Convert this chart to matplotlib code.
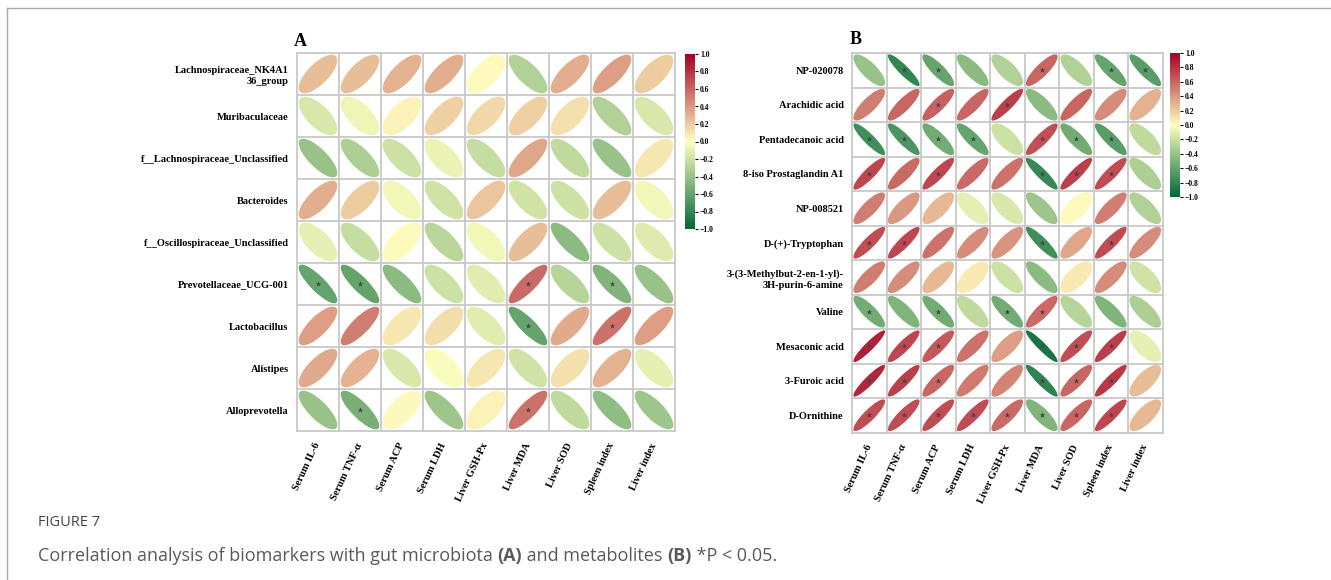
import numpy as np
import matplotlib
matplotlib.use("Agg")
import matplotlib.pyplot as plt
from matplotlib.patches import Ellipse
from matplotlib.colors import LinearSegmentedColormap, Normalize
from matplotlib.cm import ScalarMappable
from matplotlib.lines import Line2D

# ---- data ----
x_labels = ["Serum IL-6", "Serum TNF-\u03b1", "Serum ACP", "Serum LDH", "Liver GSH-Px",
            "Liver MDA", "Liver SOD", "Spleen index", "Liver index"]

rows_a = ["Lachnospiraceae_NK4A1\n36_group", "Muribaculaceae", "f__Lachnospiraceae_Unclassified",
          "Bacteroides", "f__Oscillospiraceae_Unclassified", "Prevotellaceae_UCG-001",
          "Lactobacillus", "Alistipes", "Alloprevotella"]
corr_a = [
    [0.25, 0.25, 0.30, 0.32, 0.02, -0.30, 0.32, 0.38, 0.20],
    [-0.15, -0.07, 0.05, 0.18, 0.15, 0.18, 0.12, -0.30, -0.15],
    [-0.40, -0.32, -0.20, -0.08, -0.22, 0.35, -0.25, -0.40, 0.10],
    [0.32, 0.20, -0.05, -0.18, 0.22, -0.18, -0.20, 0.25, -0.05],
    [-0.10, -0.22, 0.02, -0.27, -0.05, 0.25, -0.45, -0.20, -0.13],
    [-0.60, -0.60, -0.45, -0.20, -0.12, 0.58, -0.28, -0.50, -0.40],
    [0.38, 0.50, 0.10, 0.13, -0.12, -0.60, 0.33, 0.55, 0.38],
    [0.33, 0.30, -0.15, -0.02, 0.10, -0.18, 0.12, 0.30, -0.10],
    [-0.40, -0.52, 0.03, -0.38, 0.05, 0.55, -0.25, -0.43, -0.38],
]
sig_a = [
    [0, 0, 0, 0, 0, 0, 0, 0, 0],
    [0, 0, 0, 0, 0, 0, 0, 0, 0],
    [0, 0, 0, 0, 0, 0, 0, 0, 0],
    [0, 0, 0, 0, 0, 0, 0, 0, 0],
    [0, 0, 0, 0, 0, 0, 0, 0, 0],
    [1, 1, 0, 0, 0, 1, 0, 1, 0],
    [0, 0, 0, 0, 0, 1, 0, 1, 0],
    [0, 0, 0, 0, 0, 0, 0, 0, 0],
    [0, 1, 0, 0, 0, 1, 0, 0, 0],
]

rows_b = ["NP-020078", "Arachidic acid", "Pentadecanoic acid", "8-iso Prostaglandin A1",
          "NP-008521", "D-(+)-Tryptophan", "3-(3-Methylbut-2-en-1-yl)-\n3H-purin-6-amine",
          "Valine", "Mesaconic acid", "3-Furoic acid", "D-Ornithine"]
corr_b = [
    [-0.40, -0.80, -0.60, -0.45, -0.30, 0.60, -0.30, -0.60, -0.65],
    [0.50, 0.60, 0.62, 0.60, 0.75, -0.45, 0.60, 0.45, 0.30],
    [-0.75, -0.70, -0.55, -0.60, -0.20, 0.68, -0.55, -0.65, -0.25],
    [0.72, 0.58, 0.72, 0.58, 0.55, -0.78, 0.75, 0.70, -0.32],
    [0.50, 0.40, 0.28, -0.10, -0.15, -0.38, 0.02, 0.50, -0.30],
    [0.70, 0.72, 0.55, 0.45, 0.42, -0.75, 0.35, 0.70, 0.45],
    [0.50, 0.45, 0.28, 0.08, -0.20, -0.45, 0.08, 0.45, -0.18],
    [-0.55, -0.50, -0.55, -0.25, -0.55, 0.58, -0.28, -0.50, -0.32],
    [0.88, 0.72, 0.65, 0.55, 0.38, -0.90, 0.70, 0.75, -0.10],
    [0.85, 0.75, 0.60, 0.52, 0.48, -0.82, 0.60, 0.78, 0.25],
    [0.70, 0.70, 0.70, 0.70, 0.58, -0.50, 0.60, 0.72, 0.28],
]
sig_b = [
    [0, 1, 1, 0, 0, 1, 0, 1, 1],
    [0, 0, 1, 0, 1, 0, 0, 0, 0],
    [1, 1, 1, 1, 0, 1, 1, 1, 0],
    [1, 0, 1, 0, 0, 1, 1, 1, 0],
    [0, 0, 0, 0, 0, 0, 0, 0, 0],
    [1, 1, 0, 0, 0, 1, 0, 1, 0],
    [0, 0, 0, 0, 0, 0, 0, 0, 0],
    [1, 0, 1, 0, 1, 1, 0, 0, 0],
    [1, 1, 1, 0, 0, 1, 1, 1, 0],
    [1, 1, 1, 0, 0, 1, 1, 1, 0],
    [1, 1, 1, 1, 1, 1, 1, 1, 0],
]

cbar_ticks = [-1.0, -0.8, -0.6, -0.4, -0.2, 0.0, 0.2, 0.4, 0.6, 0.8, 1.0]

# ---- style ----
serif = "Liberation Serif"
cmap = LinearSegmentedColormap.from_list("gyr", ["#006837", "#ffffbf", "#a50026"])
norm = Normalize(-1, 1)
grid_c = "#c8c8c8"

W, H = 1331, 580
fig = plt.figure(figsize=(W / 100, H / 100), dpi=100)


def px_axes(left, top, width, height):
    return fig.add_axes([left / W, 1 - (top + height) / H, width / W, height / H])


def corr_panel(ax, corr, sig, ylabels):
    corr = np.array(corr)
    nr, nc = corr.shape
    for i in range(nr):
        for j in range(nc):
            r = corr[i, j]
            q = 0.5 - 0.35 * abs(r)
            a = 0.46 * np.sqrt(2 / (1 + q ** 2))
            ax.add_patch(Ellipse((j + 0.5, i + 0.5), 2 * a, 2 * a * q,
                                 angle=-45 if r >= 0 else 45,
                                 facecolor=cmap(norm(r)), edgecolor="none"))
            if sig[i][j]:
                ax.plot(j + 0.5, i + 0.5, marker="*", ms=4, color="#444444", mec="none")
    ax.set_xlim(0, nc)
    ax.set_ylim(nr, 0)
    for k in range(1, nc):
        ax.axvline(k, color=grid_c, lw=1.3)
    for k in range(1, nr):
        ax.axhline(k, color=grid_c, lw=1.3)
    for s in ax.spines.values():
        s.set_color(grid_c)
        s.set_linewidth(1.3)
    ax.set_xticks(np.arange(nc) + 0.5)
    ax.set_xticklabels(x_labels, rotation=65, ha="right", va="center",
                       rotation_mode="anchor", family=serif, fontweight="bold", fontsize=7.5)
    ax.set_yticks(np.arange(nr) + 0.5)
    ax.set_yticklabels(ylabels, family=serif, fontweight="bold", fontsize=7.5,
                       linespacing=1.3)
    ax.tick_params(length=0)
    ax.tick_params(axis="x", pad=9)
    ax.tick_params(axis="y", pad=6)


def colorbar(cax):
    cb = fig.colorbar(ScalarMappable(norm=norm, cmap=cmap), cax=cax, ticks=cbar_ticks)
    cb.outline.set_visible(False)
    cb.ax.tick_params(length=2.5, width=0.8, pad=1)
    cb.ax.set_yticklabels([f"{t:.1f}".replace("-", "\u2212") for t in cbar_ticks],
                          family=serif, fontweight="bold", fontsize=5.5)


# panel A
axA = px_axes(297, 53, 378, 378)
corr_panel(axA, corr_a, sig_a, rows_a)
colorbar(px_axes(685, 54, 10, 175))
fig.text(294 / W, 1 - 41 / H, "A", family=serif, fontweight="bold", fontsize=13, va="center")

# panel B
axB = px_axes(852, 53, 310.5, 379.5)
corr_panel(axB, corr_b, sig_b, rows_b)
colorbar(px_axes(1170, 53, 10, 144))
fig.text(850 / W, 1 - 40 / H, "B", family=serif, fontweight="bold", fontsize=13, va="center")

# frame lines
fig.add_artist(Line2D([7 / W, 7 / W], [0, 1 - 8 / H], transform=fig.transFigure,
                      color="#a8a8b8", lw=1))
fig.add_artist(Line2D([7 / W, 1], [1 - 8 / H, 1 - 8 / H], transform=fig.transFigure,
                      color="#a8a8b8", lw=1))

# caption
fig.text(38 / W, 1 - 523 / H, "FIGURE 7", family="Open Sans", fontsize=10.5,
         color="#444444", va="center")
parts = [("Correlation analysis of biomarkers with gut microbiota ", "normal"),
         ("(A)", "bold"), (" and metabolites ", "normal"), ("(B)", "bold"),
         (" *P < 0.05.", "normal")]
renderer = fig.canvas.get_renderer()
x = 38
for txt, wt in parts:
    t = fig.text(x / W, 1 - 556 / H, txt, family="Open Sans", fontsize=13,
                 color="#5a5a5a", fontweight=wt, va="center")
    x += t.get_window_extent(renderer).width

fig.savefig("out.png", dpi=100)
